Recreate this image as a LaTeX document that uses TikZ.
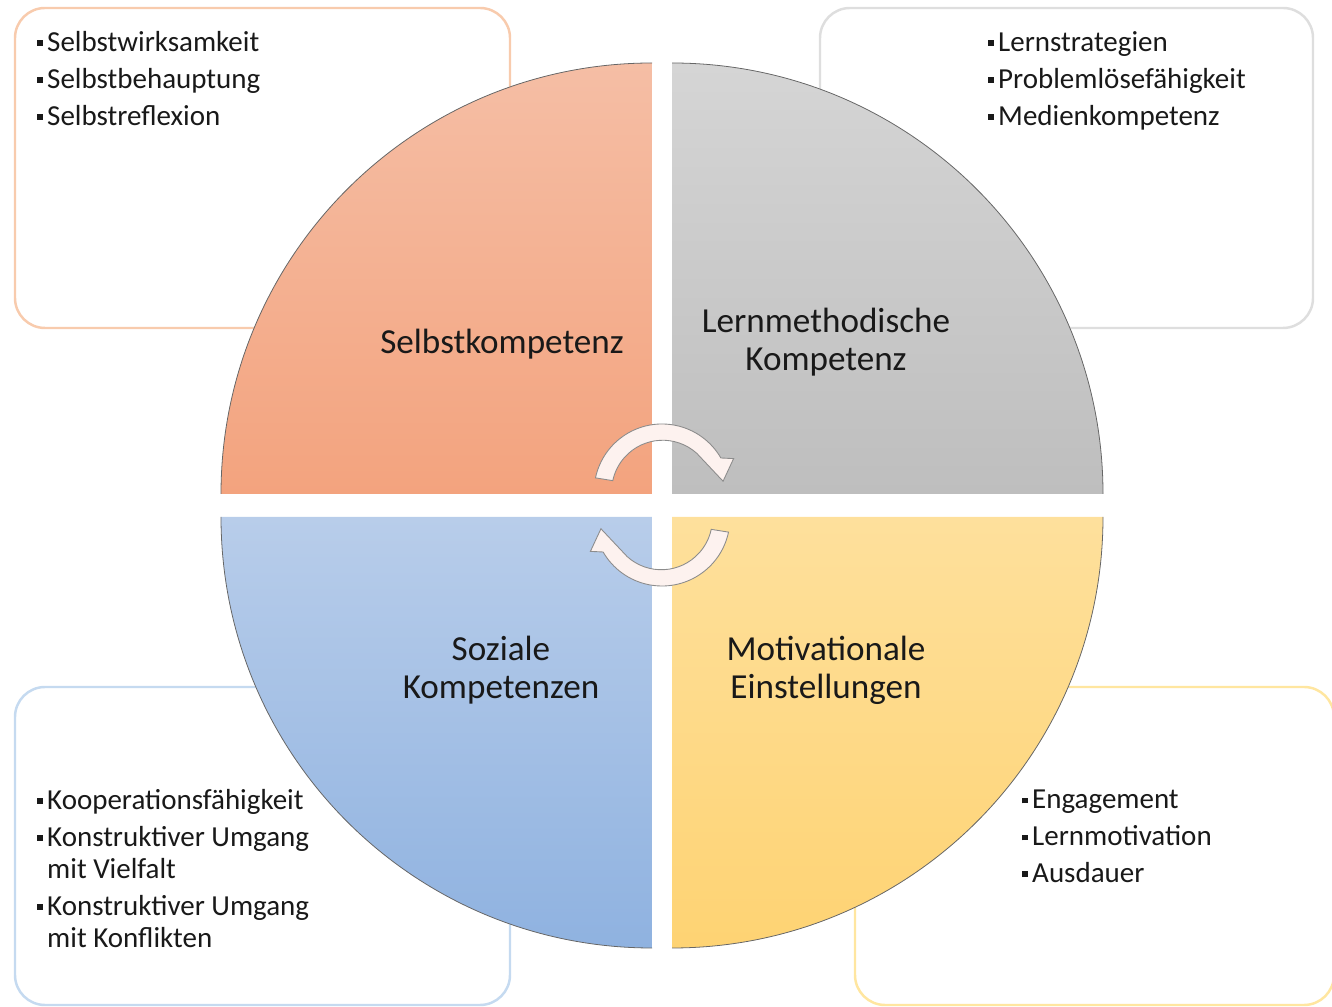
\documentclass[tikz,border=0pt]{standalone}
\usepackage{fontspec}
\setmainfont{Carlito}

% Farben
\definecolor{rotOben}{RGB}{245,190,165}
\definecolor{rotUnten}{RGB}{243,163,126}
\definecolor{grauOben}{RGB}{213,213,213}
\definecolor{grauUnten}{RGB}{190,190,190}
\definecolor{blauOben}{RGB}{184,205,234}
\definecolor{blauUnten}{RGB}{143,178,224}
\definecolor{gelbOben}{RGB}{254,224,156}
\definecolor{gelbUnten}{RGB}{254,211,115}
\definecolor{rotRand}{RGB}{248,203,173}
\definecolor{grauRand}{RGB}{222,222,222}
\definecolor{blauRand}{RGB}{197,218,240}
\definecolor{gelbRand}{RGB}{255,230,160}
\definecolor{pfeilweiss}{RGB}{253,242,239}

\newcommand{\pkt}{\makebox[0.34em][l]{\rule[0.19em]{0.2em}{0.2em}}}

\begin{document}
\begin{tikzpicture}[x=0.02cm,y=0.02cm]
\tikzset{Kasten/.style =
	{rounded corners = 0.6cm,
		line width = 1.4pt,
		fill = white},
	Rand/.style = {draw = black!60, line width = 0.45pt},
	Titel/.style =
	{font = \fontsize{20}{21.8}\selectfont,
		align = center,
		text = black!90},
	Liste/.style =
	{font = \fontsize{16.5}{18.2}\selectfont,
		align = left,
		anchor = north west,
		inner sep = 0pt,
		text = black!90},
	Pfeil/.style = {fill = pfeilweiss, draw = black!45, line width = 0.5pt}}
\useasboundingbox (0,0) rectangle (1332,1007);

% Kaesten
\draw[Kasten, draw=rotRand] (15,679) rectangle (510,999);
\draw[Kasten, draw=grauRand] (820,679) rectangle (1313,999);
\draw[Kasten, draw=blauRand] (15,2) rectangle (510,320);
\draw[Kasten, draw=gelbRand] (855,2) rectangle (1334,320);

% Viertelkreise
\shade[top color=rotOben, bottom color=rotUnten]
	(652,513) -- ++(-431,0) arc[start angle=180, end angle=90, radius=431] -- cycle;
\draw[Rand] (221,513) arc[start angle=180, end angle=90, radius=431];
\shade[top color=grauOben, bottom color=grauUnten]
	(672,513) -- ++(431,0) arc[start angle=0, end angle=90, radius=431] -- cycle;
\draw[Rand] (1103,513) arc[start angle=0, end angle=90, radius=431];
\shade[top color=blauOben, bottom color=blauUnten]
	(652,490) -- ++(-431,0) arc[start angle=180, end angle=270, radius=431] -- cycle;
\draw[Rand] (221,490) arc[start angle=180, end angle=270, radius=431];
\shade[top color=gelbOben, bottom color=gelbUnten]
	(672,490) -- ++(431,0) arc[start angle=0, end angle=-90, radius=431] -- cycle;
\draw[Rand] (1103,490) arc[start angle=0, end angle=-90, radius=431];

% Titel
\node[Titel] (Selbst) at (502,663) {Selbstkompetenz};
\node[Titel] (Lern) at (826,665) {Lernmethodische\\Kompetenz};
\node[Titel] (Sozial) at (501,337) {Soziale\\Kompetenzen};
\node[Titel] (Motiv) at (826,337) {Motivationale\\Einstellungen};

% Listen
\node[Liste] (SelbstPunkte) at (37,976)
	{\pkt Selbstwirksamkeit\\[2.8pt]\pkt Selbstbehauptung\\[2.8pt]\pkt Selbstreflexion};
\node[Liste] (LernPunkte) at (988,976)
	{\pkt Lernstrategien\\[2.8pt]\pkt Problemlösefähigkeit\\[2.8pt]\pkt Medienkompetenz};
\node[Liste] (SozialPunkte) at (37,218)
	{\pkt Kooperationsfähigkeit\\[2.8pt]\pkt Konstruktiver Umgang\\\hspace*{0.34em}mit Vielfalt\\[2.8pt]%
	\pkt Konstruktiver Umgang\\\hspace*{0.34em}mit Konflikten};
\node[Liste] (MotivPunkte) at (1022,217)
	{\pkt Engagement\\[2.8pt]\pkt Lernmotivation\\[2.8pt]\pkt Ausdauer};

% Kreispfeile
\begin{scope}[shift={(662,515)}]
\filldraw[Pfeil] (168:68) arc[start angle=168, end angle=30, radius=68]
	-- (25:79) -- (10:62) -- (48:52) arc[start angle=48, end angle=168, radius=51] -- cycle;
\end{scope}
\begin{scope}[shift={(662,489)}, rotate=180]
\filldraw[Pfeil] (168:68) arc[start angle=168, end angle=30, radius=68]
	-- (25:79) -- (10:62) -- (48:52) arc[start angle=48, end angle=168, radius=51] -- cycle;
\end{scope}
\end{tikzpicture}
\end{document}
